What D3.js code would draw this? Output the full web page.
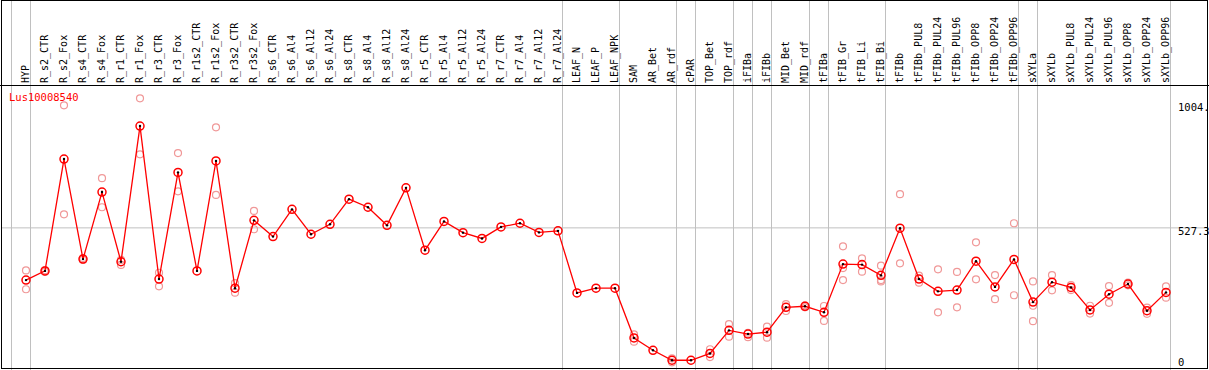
<!DOCTYPE html>
<html>
<head>
<meta charset="utf-8">
<script src="https://cdn.jsdelivr.net/npm/d3@7"></script>
<style>
  body { margin: 0; background: #fff; }
  text { font-family: "DejaVu Sans Mono", monospace; }
</style>
</head>
<body>
<div id="chart"></div>
<script>
const geneName = "Lus10008540";

const samples = [
  "HYP", "R_s2_CTR", "R_s2_Fox", "R_s4_CTR", "R_s4_Fox", "R_r1_CTR", "R_r1_Fox",
  "R_r3_CTR", "R_r3_Fox", "R_r1s2_CTR", "R_r1s2_Fox", "R_r3s2_CTR", "R_r3s2_Fox",
  "R_s6_CTR", "R_s6_Al4", "R_s6_Al12", "R_s6_Al24", "R_s8_CTR", "R_s8_Al4",
  "R_s8_Al12", "R_s8_Al24", "R_r5_CTR", "R_r5_Al4", "R_r5_Al12", "R_r5_Al24",
  "R_r7_CTR", "R_r7_Al4", "R_r7_Al12", "R_r7_Al24", "LEAF_N", "LEAF_P", "LEAF_NPK",
  "SAM", "AR_Bet", "AR_rdf", "cPAR", "TOP_Bet", "TOP_rdf", "iFIBa", "iFIBb",
  "MID_Bet", "MID_rdf", "tFIBa", "tFIB_Gr", "tFIB_Li", "tFIB_Bi", "tFIBb",
  "tFIBb_PUL8", "tFIBb_PUL24", "tFIBb_PUL96", "tFIBb_OPP8", "tFIBb_OPP24", "tFIBb_OPP96",
  "sXYLa", "sXYLb", "sXYLb_PUL8", "sXYLb_PUL24", "sXYLb_PUL96", "sXYLb_OPP8",
  "sXYLb_OPP24", "sXYLb_OPP96"
];

// mean expression per sample
const meanValues = [
  328, 363, 790, 408, 664, 398, 916,
  332, 739, 363, 783, 297, 556,
  494, 598, 503, 541, 637, 606,
  537, 680, 442, 552, 509, 487,
  531, 545, 510, 516, 279, 297, 297,
  107, 60, 22, 22, 48, 136, 122, 129,
  224, 228, 205, 389, 387, 346, 526,
  332, 285, 290, 400, 302, 407,
  244, 320, 300, 214, 274, 313,
  211, 281
];

// individual replicates per sample
const replicateValues = [
  [365, 293], [366, 359], [995, 579], [412, 405], [717, 606], [405, 386], [1022, 808],
  [356, 304], [813, 667], [], [911, 653], [316, 280], [592, 522],
  [], [], [], [], [], [],
  [], [], [], [], [], [],
  [], [], [], [], [], [], [],
  [121, 93], [], [29, 14], [], [64, 34], [160, 112], [127, 110], [150, 108],
  [236, 210], [232, 224], [229, 172], [457, 328, 374], [411, 360], [383, 328, 323], [656, 392],
  [345, 318], [369, 205], [359, 224], [472, 331], [347, 255], [545, 270],
  [323, 230, 171], [347, 289], [309, 290], [230, 200], [305, 241], [318, 308],
  [223, 199], [304, 261]
];

// indices of samples after which a group separator is drawn (-1 = before first)
const groupEnds = [-1, 0, 28, 31, 34, 35, 37, 38, 39, 41, 42, 45, 52, 53, 60];

const yMax = 1004;
const yTickValues = [0, 527.3, 1004];
const yTickLabels = ["0", "527.3", "1004."];

class ExpressionProfile {
  constructor(parentElement) {
    this.parentElement = parentElement;
    this.initVis();
  }

  initVis() {
    const vis = this;
    vis.width = 1209;
    vis.height = 370;

    vis.svg = d3.select("#" + vis.parentElement)
      .append("svg")
      .attr("width", vis.width)
      .attr("height", vis.height);

    vis.headerBottom = 85;
    vis.x = d3.scalePoint().domain(samples).range([26, 1166]);
    vis.y = d3.scaleLinear().domain([0, yMax]).range([366, 103]);

    vis.wrangleData();
  }

  wrangleData() {
    const vis = this;
    vis.points = samples.map((s, i) => ({
      sample: s,
      mean: meanValues[i],
      reps: replicateValues[i]
    }));
    vis.repPoints = vis.points.flatMap(d => d.reps.map(v => ({ sample: d.sample, value: v })));
    vis.updateVis();
  }

  updateVis() {
    const vis = this;
    const step = vis.x.step();

    // horizontal grid line at mid tick
    vis.svg.append("line")
      .attr("x1", 1).attr("x2", vis.width - 1)
      .attr("y1", vis.y(527.3)).attr("y2", vis.y(527.3))
      .attr("stroke", "#c0c0c0");

    // group separators
    vis.svg.selectAll("line.sep")
      .data(groupEnds)
      .join("line")
      .attr("class", "sep")
      .attr("x1", d => vis.x(samples[0]) + d * step + 4.5)
      .attr("x2", d => vis.x(samples[0]) + d * step + 4.5)
      .attr("y1", 0).attr("y2", vis.height)
      .attr("stroke", "#c0c0c0");

    // header line + frame
    vis.svg.append("line")
      .attr("x1", 0).attr("x2", vis.width)
      .attr("y1", vis.headerBottom + 0.5).attr("y2", vis.headerBottom + 0.5)
      .attr("stroke", "#000");
    vis.svg.append("rect")
      .attr("x", 1.5).attr("y", 0.5)
      .attr("width", vis.width - 3).attr("height", vis.height - 2)
      .attr("fill", "none").attr("stroke", "#000");

    // sample labels (rotated)
    vis.svg.selectAll("text.sample")
      .data(samples)
      .join("text")
      .attr("class", "sample")
      .attr("transform", d => `translate(${vis.x(d) + 3},${vis.headerBottom - 2}) rotate(-90)`)
      .attr("font-size", 10)
      .attr("fill", "#000")
      .text(d => d);

    // y labels
    vis.svg.selectAll("text.ytick")
      .data(yTickValues)
      .join("text")
      .attr("class", "ytick")
      .attr("x", 1178)
      .attr("y", (d, i) => Math.min(vis.y(d) + 7.5, 366))
      .attr("font-size", 10.5)
      .attr("fill", "#000")
      .text((d, i) => yTickLabels[i]);

    // gene title
    vis.svg.append("text")
      .attr("x", 9)
      .attr("y", 101)
      .attr("font-size", 10.5)
      .attr("fill", "#ff0000")
      .text(geneName);

    // replicate circles
    vis.svg.selectAll("circle.rep")
      .data(vis.repPoints)
      .join("circle")
      .attr("class", "rep")
      .attr("cx", d => vis.x(d.sample))
      .attr("cy", d => vis.y(d.value))
      .attr("r", 3.5)
      .attr("fill", "none")
      .attr("stroke", "#f09898")
      .attr("stroke-width", 1.2);

    // mean line
    const line = d3.line()
      .x(d => vis.x(d.sample))
      .y(d => vis.y(d.mean));
    vis.svg.append("path")
      .datum(vis.points)
      .attr("d", line)
      .attr("fill", "none")
      .attr("stroke", "#ff0000")
      .attr("stroke-width", 1.3);

    // mean markers
    vis.svg.selectAll("circle.mean")
      .data(vis.points)
      .join("circle")
      .attr("class", "mean")
      .attr("cx", d => vis.x(d.sample))
      .attr("cy", d => vis.y(d.mean))
      .attr("r", 4)
      .attr("fill", "none")
      .attr("stroke", "#ff0000")
      .attr("stroke-width", 1.5);

    vis.svg.selectAll("circle.dot")
      .data(vis.points)
      .join("circle")
      .attr("class", "dot")
      .attr("cx", d => vis.x(d.sample))
      .attr("cy", d => vis.y(d.mean))
      .attr("r", 1.2)
      .attr("fill", "#000");
  }
}

new ExpressionProfile("chart");
</script>
</body>
</html>
